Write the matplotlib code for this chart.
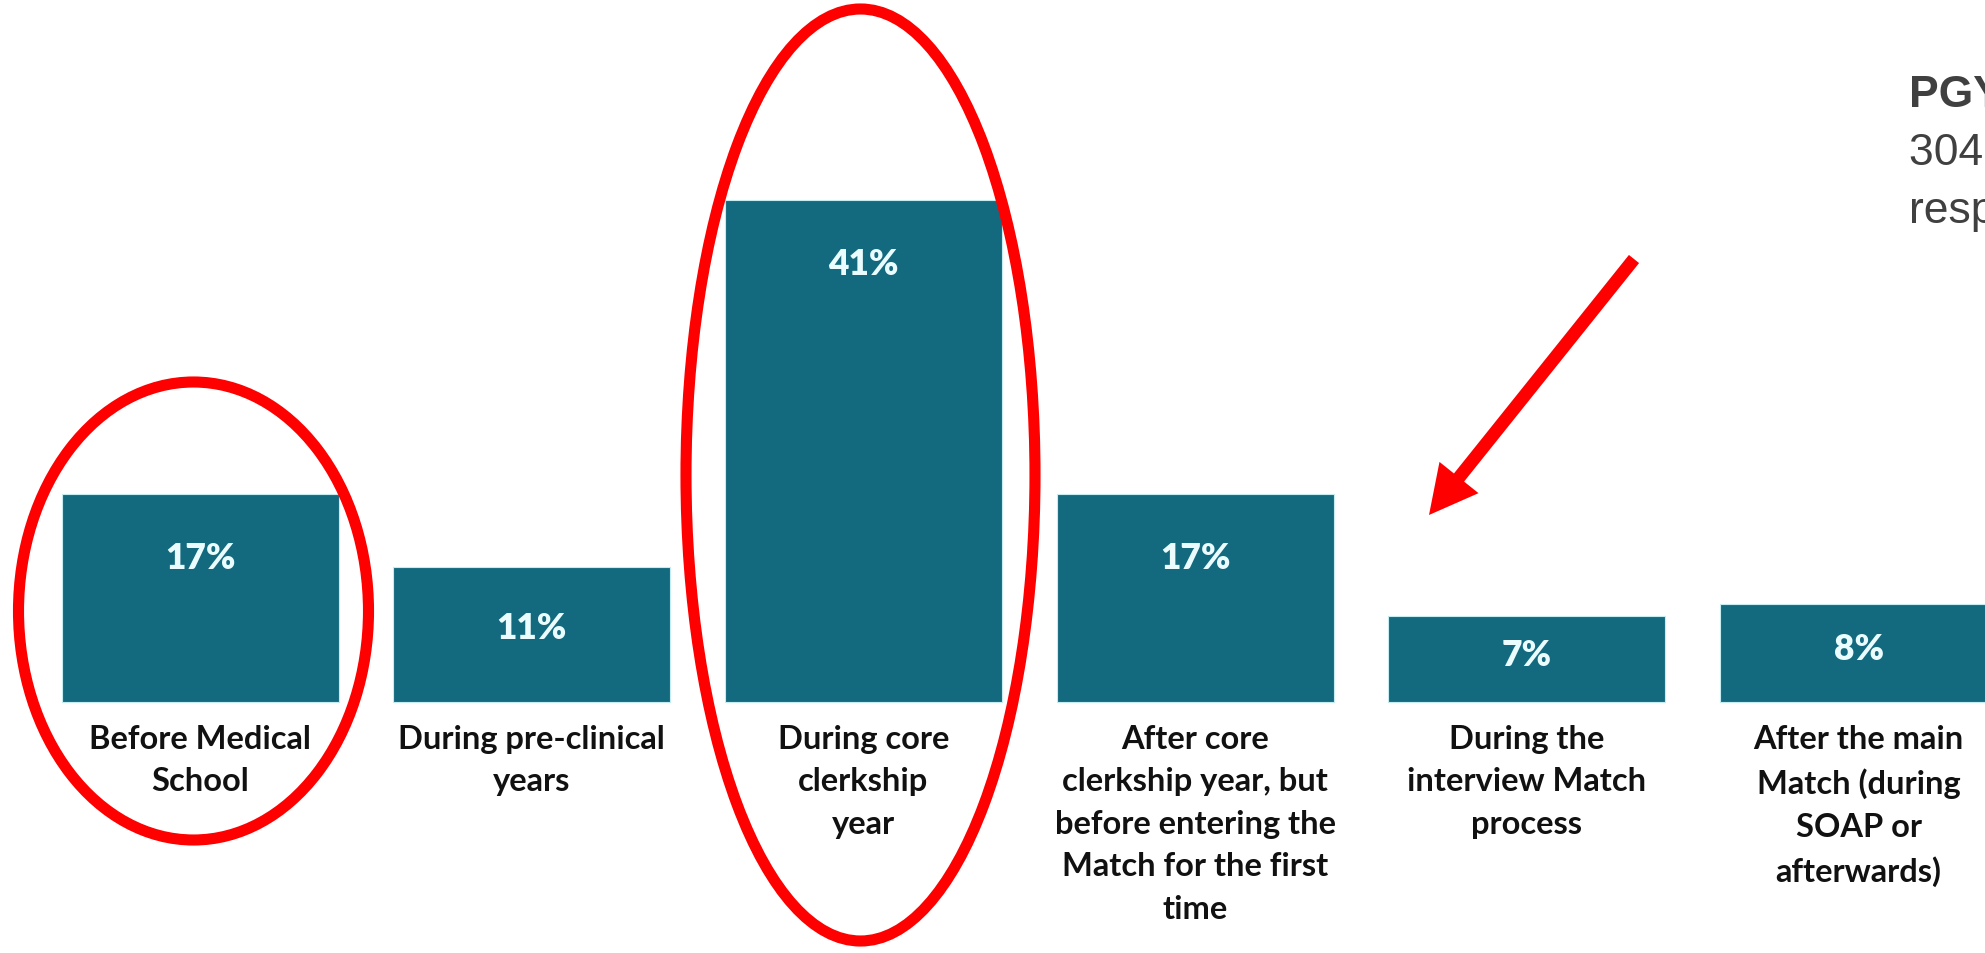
import matplotlib.pyplot as plt
from matplotlib.patches import Ellipse, FancyArrow

# When respondents decided on their specialty (% of PGY-1s)
stages = [
    "Before Medical\nSchool",
    "During pre-clinical\nyears",
    "During core\nclerkship\nyear",
    "After core\nclerkship year, but\nbefore entering the\nMatch for the first\ntime",
    "During the\ninterview Match\nprocess",
    "After the main\nMatch (during\nSOAP or\nafterwards)",
]
pct = [17, 11, 41, 17, 7, 8]

bar_color = "#136a7f"
W, H = 1985, 954

fig = plt.figure(figsize=(W / 100, H / 100), dpi=100)
fig.patch.set_facecolor("white")

ax = fig.add_axes([0, 0, 1, 1])
ax.set_xlim(-0.603, 5.381)
ax.set_ylim(-20.49, 57.39)
ax.axis("off")

x = list(range(len(pct)))
bars = ax.bar(x, pct, width=0.835, color=bar_color, edgecolor="#c4ecf1", linewidth=0.8)

px_per_unit = H / (57.39 + 20.49)
for xi, v, lab in zip(x, pct, stages):
    off = min(64, v * px_per_unit * 0.45)
    ax.annotate(f"{v}%", (xi, v), xytext=(0, -off), textcoords="offset pixels",
                ha="center", va="center", color="#eafcfd", fontsize=25.5,
                fontweight="heavy", family="Lato")
    ax.annotate(lab, (xi, 0), xytext=(0, -22), textcoords="offset pixels",
                ha="center", va="top", color="#111111", fontsize=23.5,
                fontweight="bold", family="Lato", linespacing=1.56)

# overlay in pixel space for the highlight marks
ov = fig.add_axes([0, 0, 1, 1], facecolor="none")
ov.set_xlim(0, W)
ov.set_ylim(H, 0)
ov.axis("off")

ov.add_patch(Ellipse((193.5, 612), 350, 458, fill=False, ec="#ff0000", lw=8))
ov.add_patch(Ellipse((860.5, 476), 349, 932, fill=False, ec="#ff0000", lw=8))
ov.add_patch(FancyArrow(1634, 260, 1429 - 1634, 516 - 260, width=13,
                        head_width=50, head_length=48, length_includes_head=True,
                        color="#ff0000", lw=0))

# side note, runs off the right edge
ov.text(1909, 107, "PGY-1 Residents", fontsize=32, fontweight="bold",
        color="#404040", family="Liberation Sans", va="baseline", clip_on=False)
ov.text(1909, 165, "304 survey", fontsize=32, color="#404040",
        family="Liberation Sans", va="baseline", clip_on=False)
ov.text(1909, 223, "respondents", fontsize=32, color="#404040",
        family="Liberation Sans", va="baseline", clip_on=False)

fig.savefig("out.png", dpi=100)
